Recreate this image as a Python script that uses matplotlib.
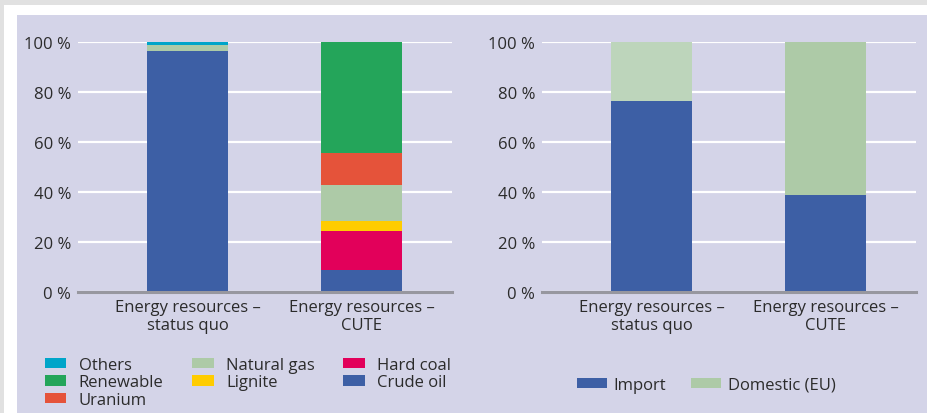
import matplotlib.pyplot as plt
from matplotlib.patches import Rectangle
import numpy as np

plt.rcParams['font.family'] = ['Open Sans', 'DejaVu Sans']

categories = ['Energy resources –\nstatus quo', 'Energy resources –\nCUTE']

# left chart: energy mix (%), bottom to top
mix_names = ['Crude oil', 'Hard coal', 'Lignite', 'Natural gas', 'Uranium', 'Renewable', 'Others']
mix_values = {
    'Crude oil':   [96.3, 8.9],
    'Hard coal':   [0.0, 15.6],
    'Lignite':     [0.0, 3.8],
    'Natural gas': [2.5, 14.4],
    'Uranium':     [0.0, 12.8],
    'Renewable':   [0.0, 44.5],
    'Others':      [1.2, 0.0],
}
mix_colors = {
    'Crude oil': '#3d5fa5',
    'Hard coal': '#e2005a',
    'Lignite': '#ffcc00',
    'Natural gas': '#adcaa7',
    'Uranium': '#e5533a',
    'Renewable': '#24a55a',
    'Others': '#00a5c9',
}
legend_order = ['Others', 'Renewable', 'Uranium', 'Natural gas', 'Lignite', 'Hard coal', 'Crude oil']

# right chart: origin (%)
import_share = [76.3, 38.9]
domestic_share = [23.7, 61.1]

W, H = 927, 414
fig = plt.figure(figsize=(W / 100, H / 100), dpi=100)
fig.patch.set_facecolor('#e1e1e1')
fig.patches.append(Rectangle((4 / W, 0), 1, (H - 6) / H, transform=fig.transFigure,
                             facecolor='white', edgecolor='none', zorder=-2))
fig.patches.append(Rectangle((17 / W, 0), 1, (H - 16) / H, transform=fig.transFigure,
                             facecolor='#d4d4e8', edgecolor='none', zorder=-1))

txt = '#2b2b2b'
bg = '#d4d4e8'
fs = 12


def setup(ax):
    ax.set_facecolor(bg)
    ax.set_ylim(0, 100)
    ax.set_xlim(-0.63, 1.52)
    ax.set_yticks([0, 20, 40, 60, 80, 100])
    ax.set_yticklabels(['0 %', '20 %', '40 %', '60 %', '80 %', '100 %'])
    ax.set_xticks([0, 1])
    ax.set_xticklabels(categories, linespacing=1.15)
    ax.tick_params(length=0, labelsize=fs, colors=txt, pad=5)
    ax.tick_params(axis='x', pad=5)
    for s in ax.spines.values():
        s.set_visible(False)
    ax.grid(axis='y', color='white', lw=1.6, zorder=0)
    ax.set_axisbelow(True)
    ax.axhline(0, color='#97979f', lw=2.2, zorder=5, clip_on=False)


x = np.arange(len(categories))
bw = 0.47

ax1 = fig.add_axes([78 / W, (H - 293) / H, 374 / W, 250 / H])
setup(ax1)
bottom = np.zeros(len(categories))
handles = {}
for name in mix_names:
    vals = np.array(mix_values[name])
    b = ax1.bar(x, vals, bw, bottom=bottom, color=mix_colors[name], zorder=3, label=name)
    handles[name] = b
    bottom += vals

fig.legend([handles[n] for n in legend_order], legend_order, loc='upper left',
           bbox_to_anchor=(38 / W, 1 - 351 / H), ncol=3, frameon=False,
           fontsize=fs, handlelength=1.3, handleheight=0.6, handletextpad=0.75,
           labelspacing=0.1, columnspacing=1.7, borderaxespad=0, labelcolor=txt)

ax2 = fig.add_axes([542 / W, (H - 293) / H, 374 / W, 250 / H])
setup(ax2)
b1 = ax2.bar(x, import_share, bw, color='#3d5fa5', zorder=3)
b2 = ax2.bar(x, domestic_share, bw, bottom=import_share, color=['#bdd5bb', '#adcaa7'], zorder=3)
fig.legend([b1, b2[1]], ['Import', 'Domestic (EU)'], loc='upper left',
           bbox_to_anchor=(570 / W, 1 - 371 / H), ncol=2, frameon=False,
           fontsize=fs, handlelength=1.8, handleheight=0.6, handletextpad=0.4,
           columnspacing=1.5, borderaxespad=0, labelcolor=txt)

fig.savefig('out.png', dpi=100, facecolor=fig.get_facecolor())
